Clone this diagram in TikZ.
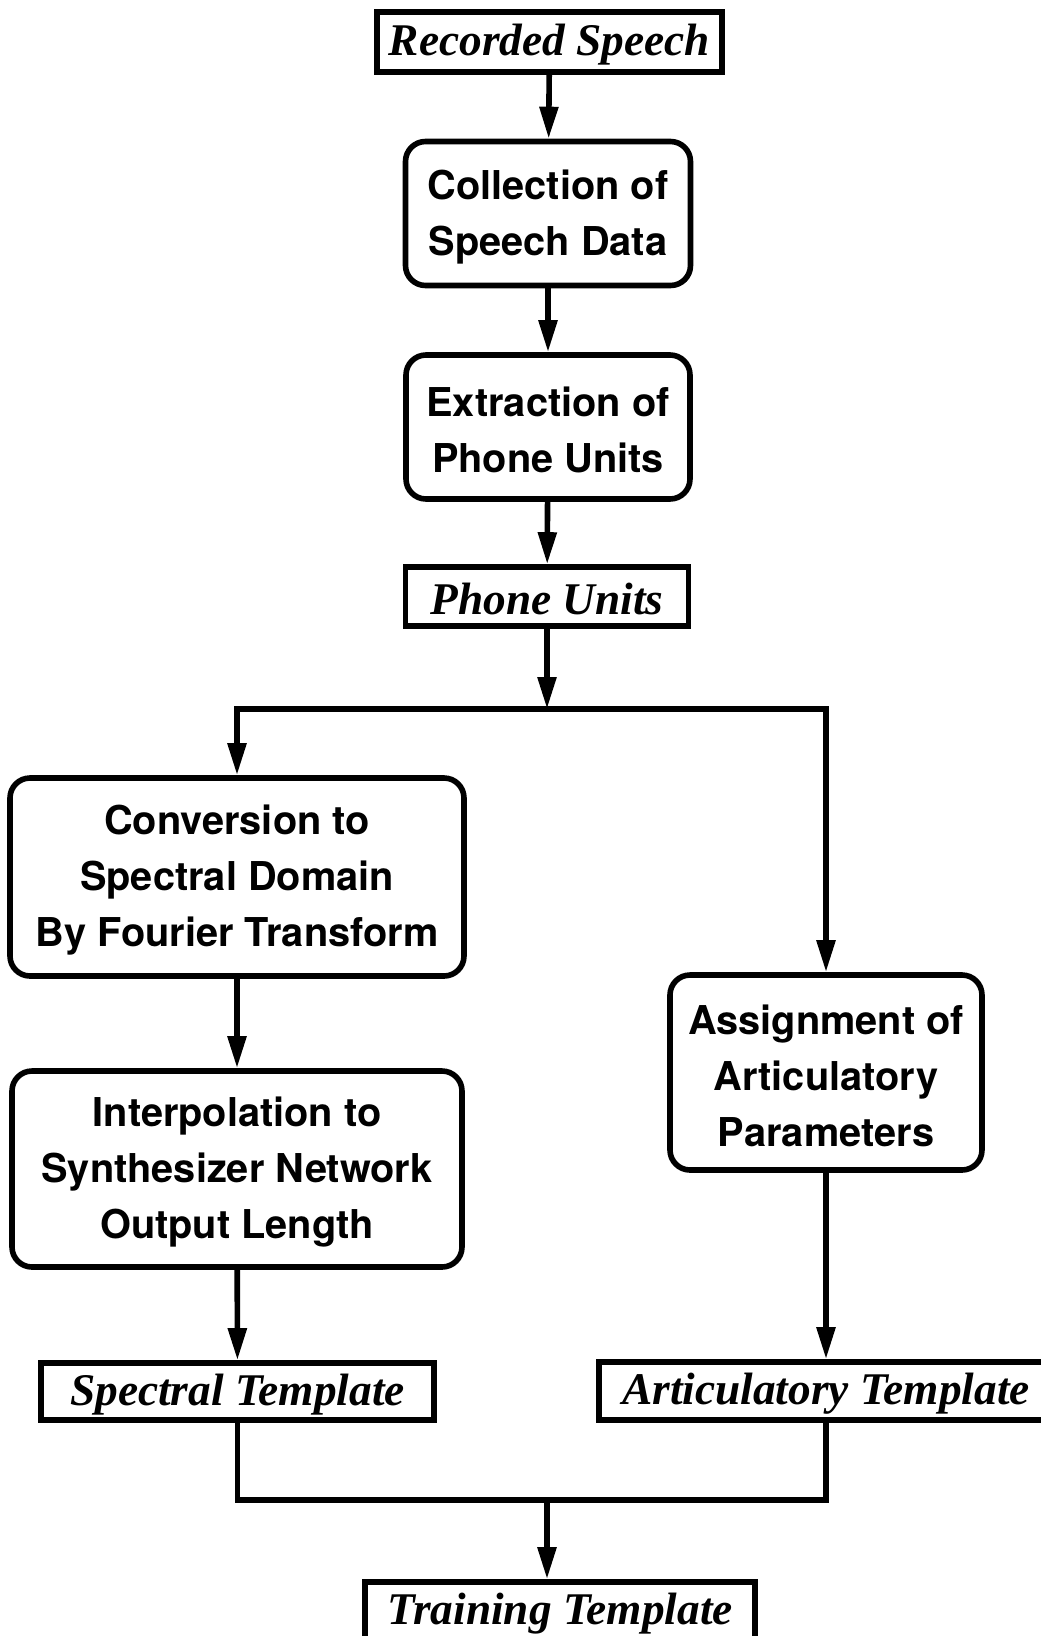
\documentclass[tikz,border=0pt]{standalone}
\usepackage{fontspec}
\setmainfont{Liberation Serif}
\setsansfont{TeX Gyre Heros}
\usetikzlibrary{arrows.meta}
\newcommand\pxu{0.75pt}
% strut for the first line of a multi-line label
\newcommand\firstln{\rule{0pt}{27pt}}
\tikzset{
  every picture/.style={x=0.75pt,y=-0.75pt},
  conn/.style={line width=4.2pt},
  arr/.style={conn,-{Triangle[length=24pt,width=13.5pt]}},
  procbox/.style={draw,line width=4.2pt,rounded corners=15pt,align=center,
    font=\fontsize{29.8pt}{42pt}\selectfont\sffamily\bfseries,inner sep=0pt},
  databox/.style={draw,line width=4.2pt,align=center,
    font=\fontsize{34pt}{40pt}\selectfont\bfseries\itshape,inner sep=0pt,
    execute at begin node={\rule{0pt}{28pt}}},
}
\begin{document}
\begin{tikzpicture}
\useasboundingbox (0,0) rectangle (1041,1636);
\clip (0,0) rectangle (1041,1636);
\fill[white] (0,0) rectangle (1041,1636);

% main column
\node[databox,minimum width=345*\pxu,minimum height=60*\pxu] (rec) at (549.5,42) {Recorded Speech};
\node[procbox,minimum width=285*\pxu,minimum height=144*\pxu] (coll) at (548,213.5) {\firstln Collection of\\Speech Data};
\node[procbox,minimum width=284*\pxu,minimum height=144*\pxu] (extr) at (548,427) {\firstln Extraction of\\Phone Units};
\node[databox,minimum width=283*\pxu,minimum height=59*\pxu] (phone) at (547,596.5) {Phone Units};

% spectral branch
\node[procbox,minimum width=454*\pxu,minimum height=198*\pxu] (conv) at (237,877) {\firstln Conversion to\\Spectral Domain\\By Fourier Transform};
\node[procbox,minimum width=450*\pxu,minimum height=196*\pxu] (interp) at (237,1169) {\firstln Interpolation to\\Synthesizer Network\\Output Length};
\node[databox,minimum width=393*\pxu,minimum height=57*\pxu] (spec) at (237.5,1391.5) {Spectral Template};

% articulatory branch
\node[procbox,minimum width=312*\pxu,minimum height=195*\pxu] (assign) at (826,1072.5) {\firstln Assignment of\\Articulatory\\Parameters};
\node[databox,minimum width=454*\pxu,minimum height=58*\pxu] (art) at (826,1391) {Articulatory Template};

% result
\node[databox,minimum width=390*\pxu,minimum height=58*\pxu] (train) at (560,1611) {Training Template};

\coordinate (split) at (547,709);
\coordinate (merge) at (547,1500);

\draw[arr] (rec) -- (coll);
\draw[arr] (coll) -- (extr);
\draw[arr] (extr) -- (phone);
\draw[arr] (phone) -- (split);
\draw[arr] (split) -| (conv);
\draw[arr] (split) -| (assign);
\draw[arr] (conv) -- (interp);
\draw[arr] (interp) -- (spec);
\draw[arr] (assign) -- (art);
\draw[conn] (spec.south) |- (merge) -| (art.south);
\draw[arr] (merge) -- (merge |- train.north);
\end{tikzpicture}
\end{document}
